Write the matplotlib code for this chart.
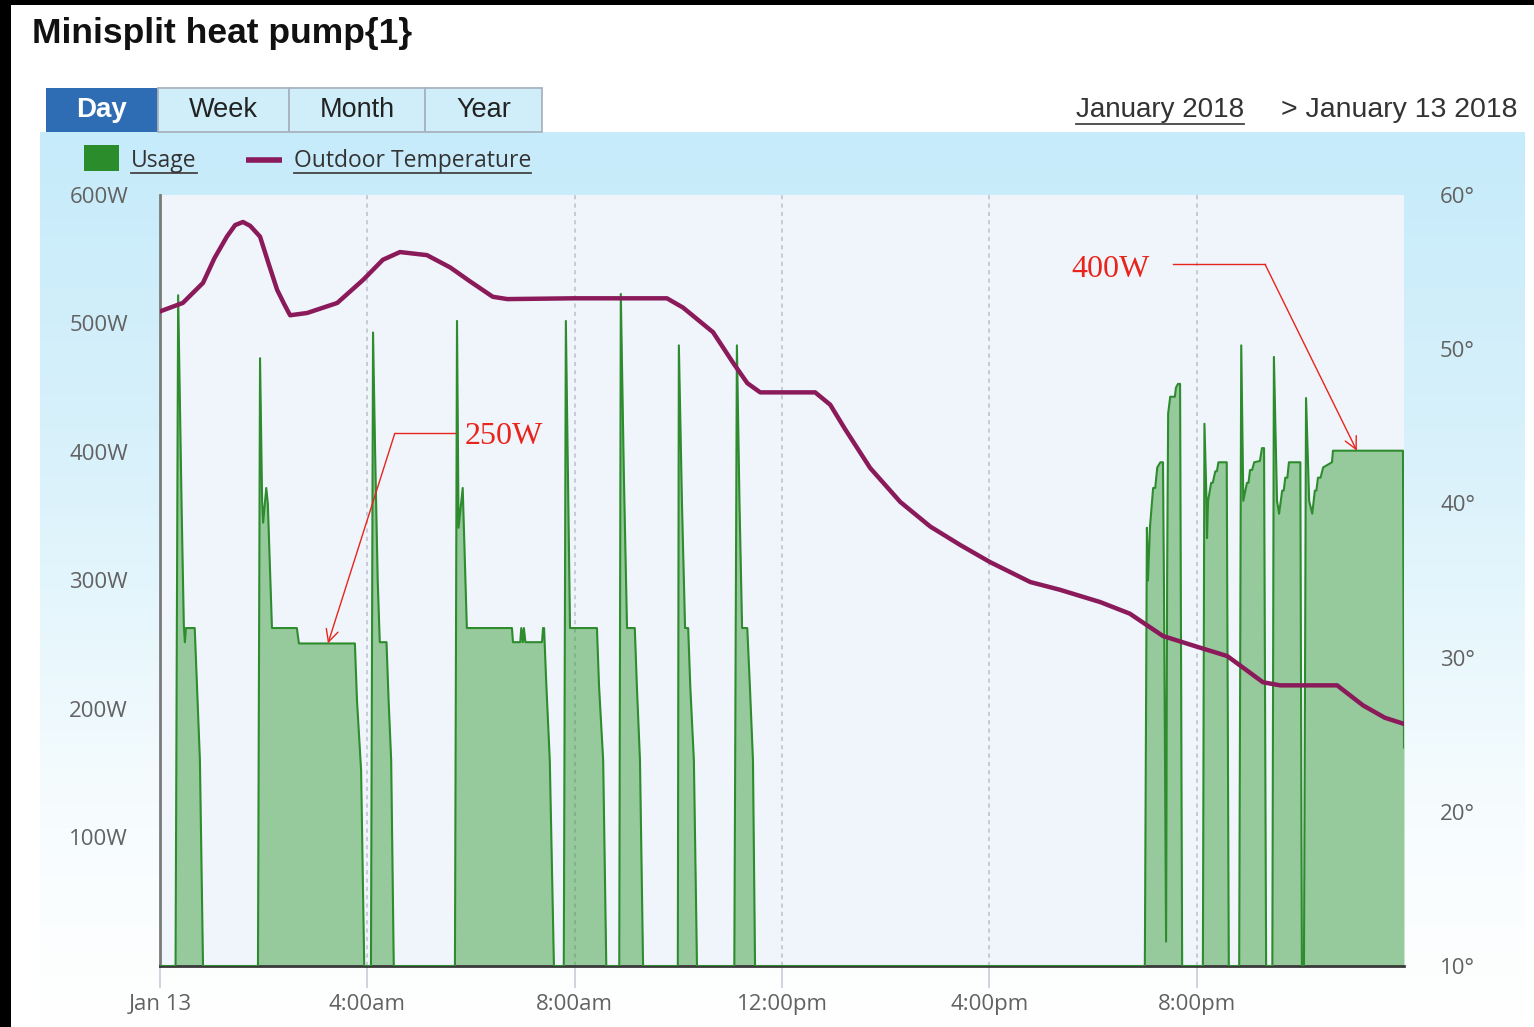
import matplotlib.pyplot as plt
import numpy as np
from matplotlib.patches import Rectangle
from matplotlib.colors import LinearSegmentedColormap

# hours after midnight, Jan 13 2018
usage_hours = [
    0.00, 0.30, 0.35, 0.39, 0.42, 0.46, 0.48, 0.50, 0.67, 0.71, 0.77, 0.83,
    1.89, 1.93, 1.97, 1.99, 2.05, 2.08, 2.16, 2.64, 2.68, 3.76, 3.80, 3.88, 3.94,
    4.07, 4.11, 4.15, 4.20, 4.24, 4.37, 4.41, 4.46, 4.51,
    5.69, 5.73, 5.76, 5.84, 5.92, 6.79, 6.81, 6.95, 6.97, 7.00, 7.02, 7.05,
    7.37, 7.39, 7.41, 7.45, 7.52, 7.60,
    7.79, 7.83, 7.87, 7.91, 8.43, 8.47, 8.55, 8.61,
    8.86, 8.89, 8.95, 9.01, 9.16, 9.20, 9.26, 9.32,
    9.99, 10.01, 10.07, 10.13, 10.19, 10.23, 10.30, 10.36,
    11.08, 11.13, 11.18, 11.23, 11.33, 11.38, 11.44, 11.48,
    19.00, 19.04, 19.06, 19.10, 19.16, 19.20, 19.24, 19.30, 19.35, 19.37,
    19.41, 19.43, 19.45, 19.49, 19.58, 19.60, 19.64, 19.68, 19.72,
    20.12, 20.15, 20.19, 20.20, 20.22, 20.28, 20.31, 20.36, 20.39, 20.42, 20.58, 20.62,
    20.82, 20.86, 20.90, 20.97, 21.00, 21.03, 21.07, 21.11, 21.22, 21.26, 21.30, 21.34,
    21.46, 21.49, 21.55, 21.59, 21.65, 21.68, 21.71, 21.75, 21.78, 21.96, 22.00, 22.03,
    22.07, 22.11, 22.17, 22.23, 22.28, 22.31, 22.34, 22.39, 22.44, 22.61, 22.63, 23.98, 24.00,
]
usage_watts = [
    0, 0, 522, 425, 350, 265, 252, 263, 263, 222, 160, 0,
    0, 473, 362, 345, 372, 360, 263, 263, 251, 251, 207, 152, 0,
    0, 493, 400, 300, 252, 252, 207, 160, 0,
    0, 502, 341, 372, 263, 263, 252, 252, 263, 252, 263, 252,
    252, 263, 263, 222, 160, 0,
    0, 502, 380, 263, 263, 218, 160, 0,
    0, 523, 380, 263, 263, 218, 160, 0,
    0, 483, 360, 263, 263, 218, 160, 0,
    0, 483, 360, 263, 263, 218, 160, 0,
    0, 341, 300, 342, 372, 372, 388, 392, 392, 291,
    19, 300, 430, 443, 443, 450, 453, 453, 0,
    0, 422, 362, 333, 362, 376, 376, 385, 385, 392, 392, 0,
    0, 483, 362, 376, 376, 386, 386, 392, 393, 403, 403, 0,
    0, 474, 362, 352, 370, 370, 380, 380, 392, 392, 392, 0,
    0, 442, 362, 352, 370, 370, 380, 380, 388, 392, 401, 401, 170,
]

temp_hours = [0.0, 0.44, 0.83, 1.05, 1.29, 1.45, 1.60, 1.74, 1.93, 2.10, 2.26, 2.40, 2.51,
              2.84, 3.42, 3.92, 4.30, 4.63, 5.15, 5.60, 5.98, 6.42, 6.70, 7.97, 9.78,
              10.09, 10.67, 11.06, 11.33, 11.58, 12.64, 12.93, 13.22, 13.70, 14.28,
              14.86, 15.44, 16.01, 16.79, 17.36, 18.14, 18.71, 19.35, 20.01, 20.59,
              21.28, 21.61, 22.71, 23.21, 23.63, 24.0]
temp_deg = [52.45, 53.0, 54.3, 55.9, 57.3, 58.05, 58.25, 58.0, 57.3, 55.5, 53.85, 52.9, 52.2,
            52.35, 53.0, 54.5, 55.8, 56.3, 56.1, 55.3, 54.4, 53.4, 53.25, 53.3, 53.3,
            52.7, 51.1, 49.1, 47.8, 47.2, 47.2, 46.4, 44.8, 42.3, 40.1,
            38.5, 37.3, 36.2, 34.9, 34.4, 33.6, 32.85, 31.4, 30.7, 30.1,
            28.4, 28.2, 28.2, 26.9, 26.1, 25.7]

x_ticks = [0, 4, 8, 12, 16, 20]
x_labels = ["Jan 13", "4:00am", "8:00am", "12:00pm", "4:00pm", "8:00pm"]
w_ticks = [100, 200, 300, 400, 500, 600]
w_labels = [f"{v}W" for v in w_ticks]
t_ticks = [10, 20, 30, 40, 50, 60]
t_labels = [f"{v}°" for v in t_ticks]
tabs = ["Day", "Week", "Month", "Year"]

GREEN_LINE = "#2e8b2e"
PURPLE = "#8a1a5a"
RED = "#e8241c"
TICK_GREY = "#626262"

W, H = 1534, 1027
fig = plt.figure(figsize=(W / 100, H / 100), dpi=100)
fig.patch.set_facecolor("white")

# page background, drawn in pixel coords
bg = fig.add_axes([0, 0, 1, 1])
grad = np.linspace(0, 1, 256).reshape(-1, 1)
cmap = LinearSegmentedColormap.from_list(
    "band", [(0, "#c6ebfa"), (0.35, "#d8f1fb"), (0.75, "#f6fcfe"), (1, "#ffffff")])
bg.imshow(grad, cmap=cmap, extent=(40, 1525, 1027, 132), aspect="auto")
bg.set_xlim(0, W)
bg.set_ylim(H, 0)
bg.axis("off")

bg.add_patch(Rectangle((0, 0), 11, H, fc="black", ec="none"))
bg.add_patch(Rectangle((0, 0), W, 5, fc="black", ec="none"))

bg.text(32, 33, "Minisplit heat pump{1}", fontsize=25.5, fontweight="bold",
        family="Liberation Sans", color="#111", va="center", ha="left")

# tabs
tab_edges = [46, 158, 289, 425, 542]
for i, name in enumerate(tabs):
    x0, x1 = tab_edges[i], tab_edges[i + 1]
    if i == 0:
        bg.add_patch(Rectangle((x0, 88), x1 - x0, 44, fc="#2e6db4", ec="none"))
        bg.text((x0 + x1) / 2, 110, name, fontsize=20, fontweight="bold",
                family="Liberation Sans", color="white", ha="center", va="center")
    else:
        bg.add_patch(Rectangle((x0, 88), x1 - x0, 44, fc="#cfeefa", ec="#a9b4c0", lw=1.3))
        bg.text((x0 + x1) / 2, 110, name, fontsize=19.5,
                family="Liberation Sans", color="#222", ha="center", va="center")

# legend row
bg.add_patch(Rectangle((84, 145), 35, 26, fc="#2b8c2b", ec="none"))
t_usage = bg.text(131, 161, "Usage", fontsize=16.5, family="Open Sans", color="#333",
                  ha="left", va="center")
bg.plot([246, 282], [160, 160], color=PURPLE, lw=4, solid_capstyle="butt")
t_temp = bg.text(294, 161, "Outdoor Temperature", fontsize=16.5, family="Open Sans",
                 color="#333", ha="left", va="center")

t_month = bg.text(1076, 110, "January 2018", fontsize=20, family="Liberation Sans",
                  color="#333", ha="left", va="center")
bg.text(1281, 110, "> January 13 2018", fontsize=20.5, family="Liberation Sans",
        color="#333", ha="left", va="center")

# main chart
ax = fig.add_axes([160 / W, 1 - 966 / H, (1404 - 160) / W, (966 - 195) / H])
ax.set_facecolor("#eff5fb")
for h in x_ticks[1:]:
    ax.axvline(h, color="#c0c3d0", lw=1.2, ls=(0, (2.5, 2.5)), zorder=1)
ax.fill_between(usage_hours, usage_watts, 0, color="#2a962a", alpha=0.45, lw=0, zorder=2)
ax.plot(usage_hours, usage_watts, color=GREEN_LINE, lw=1.5, zorder=3)
ax.set_xlim(0, 24)
ax.set_ylim(0, 600)

ax.set_xticks(x_ticks, x_labels)
ax.set_yticks(w_ticks, w_labels)
ax.tick_params(axis="x", length=16, width=1.2, color="#c8ccda", pad=4,
               labelsize=16, labelcolor=TICK_GREY)
ax.tick_params(axis="y", length=0, pad=23, labelsize=16, labelcolor=TICK_GREY)
for lab in ax.get_xticklabels() + ax.get_yticklabels():
    lab.set_family("Open Sans")
for s in ["top", "right"]:
    ax.spines[s].set_visible(False)
ax.spines["left"].set_color("#7a7a7a")
ax.spines["left"].set_linewidth(2)
ax.spines["bottom"].set_color("#3a3a3a")
ax.spines["bottom"].set_linewidth(2)

# annotations
ax.plot([4.53, 5.69], [414.5, 414.5], color=RED, lw=1, zorder=6)
ax.annotate("", xy=(3.24, 251), xytext=(4.53, 414.5), zorder=6,
            arrowprops=dict(arrowstyle="->", color=RED, lw=1, mutation_scale=22,
                            shrinkA=0, shrinkB=0))
ax.text(5.88, 412, "250W", fontsize=23, family="Liberation Serif", color=RED,
        va="center", ha="left", zorder=6)

ax.plot([19.54, 21.32], [546, 546], color=RED, lw=1, zorder=6)
ax.annotate("", xy=(23.09, 401), xytext=(21.32, 546), zorder=6,
            arrowprops=dict(arrowstyle="->", color=RED, lw=1, mutation_scale=22,
                            shrinkA=0, shrinkB=0))
ax.text(19.10, 542, "400W", fontsize=23, family="Liberation Serif", color=RED,
        va="center", ha="right", zorder=6)

# temperature on right axis
tx = ax.twinx()
tx.plot(temp_hours, temp_deg, color=PURPLE, lw=3.2, solid_capstyle="round",
        solid_joinstyle="round")
tx.set_ylim(10, 60)
tx.set_yticks(t_ticks, t_labels)
tx.tick_params(axis="y", length=0, pad=26, labelsize=16, labelcolor=TICK_GREY)
for lab in tx.get_yticklabels():
    lab.set_family("Open Sans")
for s in tx.spines.values():
    s.set_visible(False)

# underlines for link-style text
fig.canvas.draw()
for t, y in [(t_usage, 173), (t_temp, 173), (t_month, 124)]:
    bb = t.get_window_extent()
    bg.plot([bb.x0, bb.x1], [y, y], color="#444", lw=1.3)

fig.savefig("out.png", dpi=100)
